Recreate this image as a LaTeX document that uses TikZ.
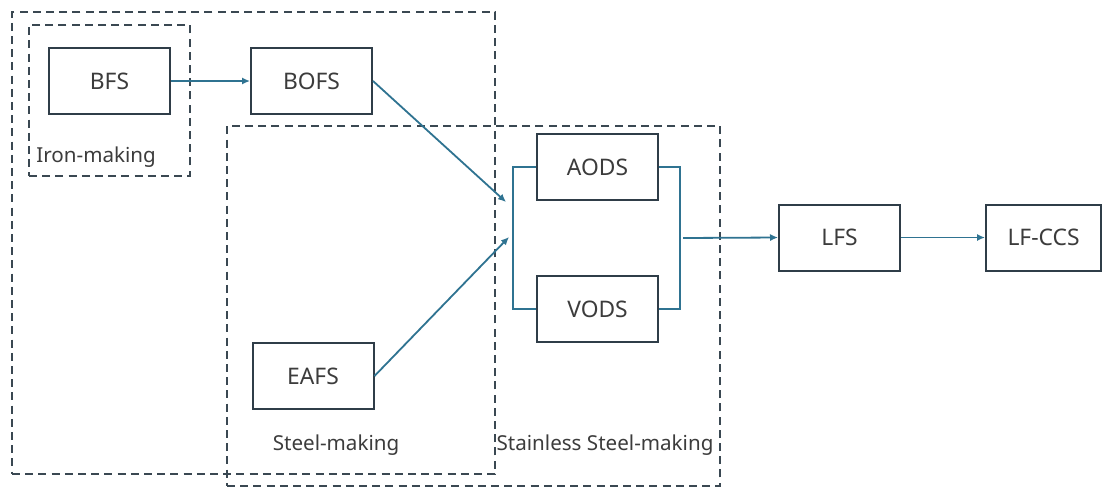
\documentclass[tikz,border=0pt]{standalone}
\usepackage{fontspec}
\setmainfont{Noto Sans}
\usetikzlibrary{arrows.meta}
\definecolor{boxline}{HTML}{2F3D48}
\definecolor{flowline}{HTML}{2F7391}
\definecolor{groupline}{HTML}{3A4852}
\definecolor{txt}{HTML}{3C3C3C}
\tikzset{
  unit/.style={draw=boxline, line width=1pt, fill=white, inner sep=0pt,
    minimum width=60.5pt, minimum height=33pt, text=txt, font=\fontsize{11.4}{13}\selectfont},
  group/.style={draw=groupline, line width=0.9pt, dash pattern=on 4pt off 2.6pt, inner sep=0pt},
  grouplabel/.style={text=txt, inner sep=0pt, font=\fontsize{10.3}{12}\selectfont},
  flow/.style={draw=flowline, line width=0.9pt},
  flowarrow/.style={flow, -{Latex[length=4pt,width=3.6pt]}}
}
\begin{document}
\begin{tikzpicture}[x=0.5pt, y=-0.5pt]
\useasboundingbox (0,0) rectangle (1103,488);
\fill[white] (0,0) rectangle (1103,488);

% process groups (dashed frames)
\node[group, minimum width=241.5pt, minimum height=231pt] (steelgrp) at (253.5,243) {};
\node[group, minimum width=80.5pt, minimum height=75.5pt] (irongrp) at (109.5,100.5) {};
\node[group, minimum width=246.5pt, minimum height=180pt] (stainlessgrp) at (473.5,306) {};

% group labels
\node[grouplabel, anchor=west] (ironlbl) at (36,157) {Iron-making};
\node[grouplabel] (steellbl) at (336,445) {Steel-making};
\node[grouplabel] (stainlesslbl) at (605,445) {Stainless Steel-making};

% process units
\node[unit] (BFS) at (109.5,81) {BFS};
\node[unit] (BOFS) at (311.5,81) {BOFS};
\node[unit] (EAFS) at (313,376) {EAFS};
\node[unit] (AODS) at (597.5,167) {AODS};
\node[unit] (VODS) at (597.5,309) {VODS};
\node[unit] (LFS) at (839.5,237.5) {LFS};
\node[unit, minimum width=57.5pt] (LFCCS) at (1043.5,237.5) {LF-CCS};

% junction points of the parallel AOD/VOD stage
\coordinate (inA) at (506,202);
\coordinate (inB) at (509,237);
\coordinate (outR) at (683,238);

% parallel bracket
\draw[flow] (AODS.west) -- ++(-23,0) |- (VODS.west);
\draw[flow] (AODS.east) -- ++(21,0) |- (VODS.east);

% flows
\draw[flowarrow] (BFS.east) -- (BOFS.west);
\draw[flowarrow] (BOFS.east) -- (inA);
\draw[flowarrow] (EAFS.east) -- (inB);
\draw[flowarrow] (outR) -- (LFS.west);
\draw[flowarrow] (LFS.east) -- (LFCCS.west);
\end{tikzpicture}
\end{document}
